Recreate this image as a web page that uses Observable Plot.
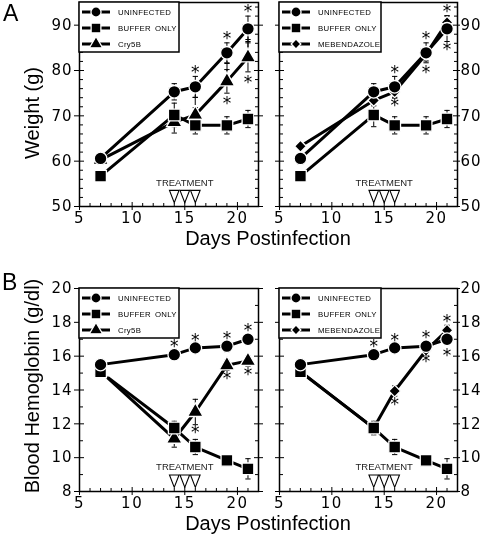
<!DOCTYPE html>
<html><head><meta charset="utf-8">
<script src="https://cdn.jsdelivr.net/npm/d3@7"></script>
<script src="https://cdn.jsdelivr.net/npm/@observablehq/plot@0.6"></script>
<style>
body{margin:0;background:#fff}
#c{position:relative;width:483px;height:537px;overflow:hidden;background:#fff}
.p{position:absolute;will-change:transform}
.p svg{overflow:visible}
g[aria-label="x-axis tick label"]{letter-spacing:1.5px}
g[aria-label="y-axis tick label"]{letter-spacing:1px}
</style>
</head><body><div id="c"></div>
<script>
// ---------- data ----------
const days = [7, 14, 16, 19, 21];
const treatmentDays = [14, 15, 16];
const xMajor = [5, 10, 15, 20];
const xMinor = [6,7,8,9,11,12,13,14,16,17,18,19,21,22];
const yMajorA = [50, 60, 70, 80, 90];
const yMinorA = [52,54,56,58,62,64,66,68,72,74,76,78,82,84,86,88,92,94];
const yMajorB = [8, 10, 12, 14, 16, 18, 20];
const yMinorB = [9, 11, 13, 15, 17, 19];
const names = ["UNINFECTED", "BUFFER ONLY", "Cry5B", "MEBENDAZOLE"];

// Panel A: weight (g)
const weightUninfected = [60.6, 75.3, 76.4, 83.9, 89.2];
const weightBuffer = [56.7, 70.2, 67.9, 67.9, 69.3];
const weightCry5B = [60.3, 68.6, 70.2, 77.6, 82.9];
const weightMebendazole = [63.3, 73.4, 75.3, 83.6, 90.6];
const weightUninfectedErr = [1.2, 1.8, 2.3, 2.2, 2.8];
const weightBufferErr = [0.8, 2.6, 1.9, 1.9, 1.9];
const weightCry5BErr = [0.8, 2.4, 1.6, 2.6, 3.2];
const weightMebendazoleErr = [0.6, 1.2, 1.4, 1.5, 1.5];

// Panel B: blood hemoglobin (g/dl)
const hbUninfected = [15.5, 16.09, 16.49, 16.59, 17.0];
const hbBuffer = [15.07, 11.75, 10.63, 9.84, 9.34];
const hbCry5B = [15.1, 11.12, 12.7, 15.46, 15.72];
const hbMebendazole = [15.1, 11.75, 13.94, 16.35, 17.53];
const hbUninfectedErr = [0.2, 0.2, 0.2, 0.2, 0.2];
const hbBufferErr = [0.2, 0.4, 0.45, 0.2, 0.6];
const hbCry5BErr = [0.2, 0.5, 0.75, 0.3, 0.3];
const hbMebendazoleErr = [0.2, 0.3, 0.3, 0.3, 0.3];

// significance marks [day, value]
const starsWeightCry5B = [[16,80.75],[19,88.1],[19,73.8],[21,94.0],[21,78.5]];
const daggersWeightCry5B = [[16,73.5],[19,80.9],[21,86.3]];
const starsWeightMeb = [[16,80.6],[16,73.3],[19,88.1],[19,80.6],[21,94.0],[21,85.8]];
const daggersWeightMeb = [];
const starsHbCry5B = [[14,16.84],[16,17.24],[19,17.34],[21,17.83],[16,11.81],[19,14.97],[21,15.2]];
const starsHbMeb = [[14,16.84],[16,17.24],[19,17.38],[21,18.36],[16,13.43],[19,15.95],[21,16.35]];

// ---------- helpers ----------
const capSymbol = {draw(ctx, size){ const w = Math.sqrt(size) * 0.5; ctx.moveTo(-w, 0); ctx.lineTo(w, 0); }};
const downTriangle = {draw(ctx, size){ const s = Math.sqrt(size); const hw = 0.45*s, hh = 0.58*s;
  ctx.moveTo(-hw, -hh); ctx.lineTo(hw, -hh); ctx.lineTo(0, hh); ctx.closePath(); }};

function rows(values, err){ return days.map((d, i) => ({day: d, v: values[i], e: err[i]})); }

function panel(cfg){
  const marks = [];
  for (const s of cfg.series){
    const r = rows(s.values, s.err);
    marks.push(Plot.ruleX(r, {x: "day", y1: d => d.v - d.e, y2: d => d.v + d.e, stroke: "black", strokeWidth: 1}));
    marks.push(Plot.dot(r, {x: "day", y: d => d.v + d.e, symbol: capSymbol, r: 3, fill: "none", stroke: "black", strokeWidth: 1}));
    marks.push(Plot.dot(r, {x: "day", y: d => d.v - d.e, symbol: capSymbol, r: 3, fill: "none", stroke: "black", strokeWidth: 1}));
  }
  for (const s of cfg.series){
    marks.push(Plot.line(rows(s.values, s.err), {x: "day", y: "v", stroke: "black", strokeWidth: 3}));
  }
  for (const s of cfg.series.slice().reverse()){
    marks.push(Plot.dot(rows(s.values, s.err), {x: "day", y: "v", symbol: s.symbol, r: s.r, fill: "black", stroke: "white", strokeWidth: 1.3}));
  }
  marks.push(Plot.text(cfg.stars, {x: d => d[0], y: d => d[1], text: () => "*", fontSize: 17, fontFamily: "DejaVu Sans", dy: 5, fill: "black"}));
  marks.push(Plot.text(cfg.daggers, {x: d => d[0], y: d => d[1], text: () => "\u2020", fontSize: 12, fontFamily: "DejaVu Sans", dy: 0, fill: "black"}));
  marks.push(Plot.text([15], {x: d => d, y: () => cfg.treatText, text: () => "TREATMENT", fontSize: 9.5, fontFamily: "Liberation Sans", fill: "#222"}));
  marks.push(Plot.dot(treatmentDays, {x: d => d, y: () => cfg.treatTri, symbol: downTriangle, r: 6, fill: "white", stroke: "black", strokeWidth: 1.1}));
  marks.push(Plot.frame({stroke: "black", strokeWidth: 1.5}));
  const other = cfg.labelSide === "left" ? "right" : "left";
  marks.push(Plot.axisX(xMajor, {tickSize: 4, tickPadding: 2, fontSize: 15}));
  marks.push(Plot.axisX(xMajor, {tickSize: -4, text: null}));
  marks.push(Plot.axisX(xMinor, {tickSize: -3, text: null}));
  marks.push(Plot.axisY(cfg.yMajor, {anchor: cfg.labelSide, tickSize: cfg.labelSide === "left" ? 5 : 2, tickPadding: cfg.labelSide === "left" ? 2 : 1, fontSize: 15}));
  marks.push(Plot.axisY(cfg.yMajor, {anchor: other, tickSize: 4, text: null}));
  for (const side of ["left", "right"]){
    marks.push(Plot.axisY(cfg.yMajor, {anchor: side, tickSize: -5, text: null}));
    marks.push(Plot.axisY(cfg.yMinor, {anchor: side, tickSize: -4, text: null}));
  }
  const svg = Plot.plot({
    width: cfg.width, height: cfg.height,
    marginLeft: cfg.ml, marginRight: cfg.mr, marginTop: cfg.mt, marginBottom: cfg.mb,
    x: {domain: [5, 22], label: null},
    y: {domain: cfg.yDomain, label: null},
    style: {fontFamily: "DejaVu Sans", fontSize: "15px", color: "black", background: "transparent"},
    marks
  });
  const g = d3.select(svg).append("g").attr("text-anchor", "start");
  const x0 = cfg.ml, y0 = cfg.mt;
  g.append("rect").attr("x", x0).attr("y", y0).attr("width", cfg.legendW).attr("height", 50)
    .attr("fill", "white").attr("stroke", "black").attr("stroke-width", 1.5);
  cfg.series.forEach((s, i) => {
    const y = y0 + 10 + i * 16;
    g.append("line").attr("x1", x0 + 3).attr("x2", x0 + 31).attr("y1", y).attr("y2", y)
      .attr("stroke", "black").attr("stroke-width", 3);
    g.append("path").attr("transform", `translate(${x0 + 17},${y})`)
      .attr("d", d3.symbol().type(s.legendType).size(s.legendSize)())
      .attr("fill", "black").attr("stroke", "white").attr("stroke-width", 1.3);
    g.append("text").attr("x", x0 + 39).attr("y", y).attr("dy", "0.35em")
      .attr("text-anchor", "start")
      .attr("font-family", "Liberation Sans").attr("font-size", 7.8).attr("fill", "black")
      .attr("letter-spacing", "0.3px").attr("word-spacing", "1.5px")
      .text(s.name);
  });
  const div = document.createElement("div");
  div.className = "p";
  div.style.left = cfg.left + "px"; div.style.top = cfg.top + "px";
  div.appendChild(svg);
  document.getElementById("c").appendChild(div);
}

const sUninf = (v, e) => ({name: names[0], values: v, err: e, symbol: "circle", r: 6.3, legendType: d3.symbolCircle, legendSize: 80});
const sBuf = (v, e) => ({name: names[1], values: v, err: e, symbol: "square", r: 6.6, legendType: d3.symbolSquare, legendSize: 95});
const sCry = (v, e) => ({name: names[2], values: v, err: e, symbol: "triangle", r: 5.8, legendType: d3.symbolTriangle, legendSize: 75});
const sMeb = (v, e) => ({name: names[3], values: v, err: e, symbol: "diamond2", r: 5.3, legendType: d3.symbolDiamond2, legendSize: 60});

const geomL = {width: 275, ml: 79, mr: 17, left: 0, labelSide: "left", legendW: 100};
const geomR = {width: 221, ml: 17, mr: 26, left: 262, labelSide: "right", legendW: 102};
const geomA = {height: 232, mt: 2, mb: 26, top: 0, yDomain: [50, 95], yMajor: yMajorA, yMinor: yMinorA, treatText: 55.3, treatTri: 52.2};
const geomB = {height: 245, mt: 18, mb: 24, top: 270, yDomain: [8, 20], yMajor: yMajorB, yMinor: yMinorB, treatText: 9.44, treatTri: 8.61};

panel({...geomL, ...geomA,
  series: [sUninf(weightUninfected, weightUninfectedErr), sBuf(weightBuffer, weightBufferErr), sCry(weightCry5B, weightCry5BErr)],
  stars: starsWeightCry5B, daggers: daggersWeightCry5B});
panel({...geomR, ...geomA,
  series: [sUninf(weightUninfected, weightUninfectedErr), sBuf(weightBuffer, weightBufferErr), sMeb(weightMebendazole, weightMebendazoleErr)],
  stars: starsWeightMeb, daggers: daggersWeightMeb});
panel({...geomL, ...geomB,
  series: [sUninf(hbUninfected, hbUninfectedErr), sBuf(hbBuffer, hbBufferErr), sCry(hbCry5B, hbCry5BErr)],
  stars: starsHbCry5B, daggers: []});
panel({...geomR, ...geomB,
  series: [sUninf(hbUninfected, hbUninfectedErr), sBuf(hbBuffer, hbBufferErr), sMeb(hbMebendazole, hbMebendazoleErr)],
  stars: starsHbMeb, daggers: []});

// ---------- titles overlay ----------
const ov = d3.select("#c").append("svg").attr("class", "p").attr("width", 483).attr("height", 537)
  .style("left", "0px").style("top", "0px").style("pointer-events", "none")
  .attr("font-family", "Liberation Sans").attr("fill", "black");
ov.append("text").attr("x", 3).attr("y", 21).attr("font-size", 23).text("A");
ov.append("text").attr("x", 2).attr("y", 290).attr("font-size", 23).text("B");
ov.append("text").attr("x", 268).attr("y", 245).attr("font-size", 20).attr("text-anchor", "middle").text("Days Postinfection");
ov.append("text").attr("x", 268).attr("y", 530).attr("font-size", 20).attr("text-anchor", "middle").text("Days Postinfection");
ov.append("text").attr("transform", "translate(39,113) rotate(-90)").attr("font-size", 20).attr("text-anchor", "middle").text("Weight (g)");
ov.append("text").attr("transform", "translate(39,386) rotate(-90)").attr("font-size", 20).attr("text-anchor", "middle").text("Blood Hemoglobin (g/dl)");
</script>
</body></html>
